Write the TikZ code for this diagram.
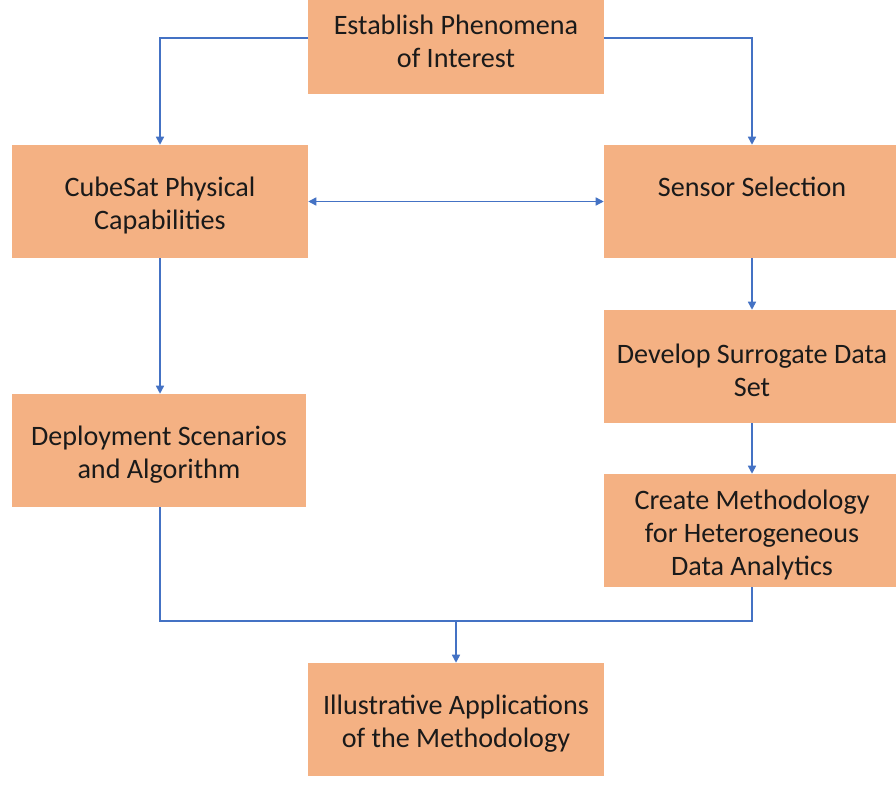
\documentclass[tikz,border=0pt]{standalone}
\usepackage{fontspec}
\setmainfont{Carlito}
\usetikzlibrary{arrows.meta}
\definecolor{boxfill}{HTML}{F4B183}
\definecolor{linkblue}{HTML}{4472C4}
\definecolor{txt}{HTML}{1A1A1A}
\newcommand\tstrut{\rule{0pt}{20.7pt}}
\begin{document}
\begin{tikzpicture}[x=0.75pt,y=-0.75pt,
  box/.style={draw=none,fill=boxfill,minimum width=296*0.75pt,minimum height=113*0.75pt,
    inner sep=0pt,align=center,text=txt,font=\fontsize{21.1}{24.75}\selectfont},
  link/.style={draw=linkblue,line width=1.1pt},
  tip/.style={-{Triangle[length=6pt,width=6pt]}},
  dtip/.style={{Triangle[length=6pt,width=6pt]}-{Triangle[length=6pt,width=6pt]}}]
\clip (0,0) rectangle (896,807);
\fill[white] (0,0) rectangle (896,807);
\node[box] (est) at (456,37.5) {\tstrut Establish Phenomena\\of Interest};
\node[box] (cube) at (160,201.5) {\tstrut CubeSat Physical\\Capabilities};
\node[box] (sens) at (752,201.5) {\raisebox{4pt}[0pt][0pt]{Sensor Selection}};
\node[box] (surr) at (752,366.5) {\tstrut Develop Surrogate Data\\Set};
\node[box,minimum width=294*0.75pt] (dep) at (159,450.5) {\tstrut Deployment Scenarios\\and Algorithm};
\node[box] (meth) at (752,530.5) {\tstrut Create Methodology\\for Heterogeneous\\Data Analytics};
\node[box] (ill) at (456,719.5) {\tstrut Illustrative Applications\\of the Methodology};
\coordinate (j) at (456,621);
\draw[link,tip] (est.west |- 0,38) -| (cube.north);
\draw[link,tip] (est.east |- 0,38) -| (sens.north);
\draw[link,dtip] (cube.east) -- (sens.west);
\draw[link,tip] (cube.south) -- (dep.north -| cube.south);
\draw[link,tip] (sens.south) -- (surr.north);
\draw[link,tip] (surr.south) -- (meth.north);
\draw[link] (dep.south -| cube.south) |- (j) -| (meth.south);
\draw[link,tip] (j) -- (ill.north);
\end{tikzpicture}
\end{document}
